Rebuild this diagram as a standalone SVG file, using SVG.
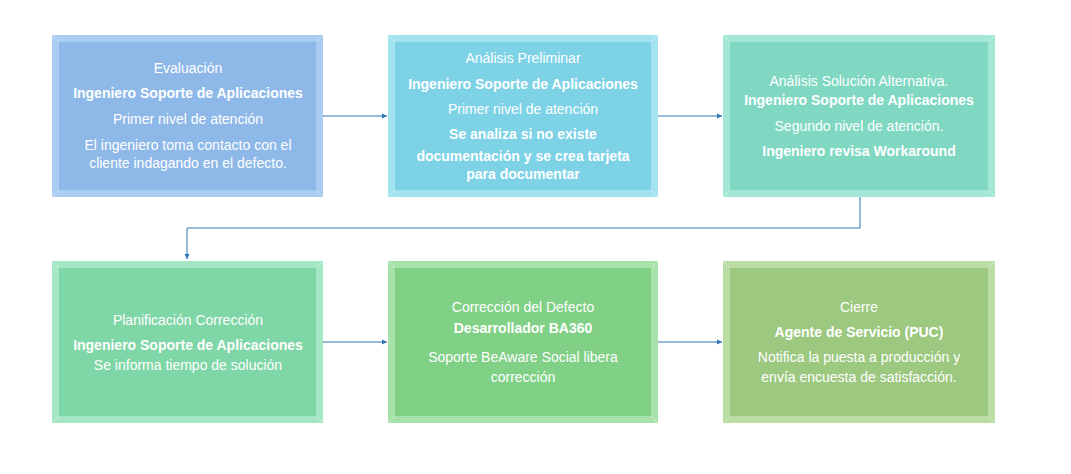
<svg xmlns="http://www.w3.org/2000/svg" width="1071" height="474" viewBox="0 0 1071 474">
<style>
text{font-family:"Liberation Sans",Arial,sans-serif;font-size:14px;fill:#fff;text-anchor:middle}
.b{font-weight:bold}
.edge{stroke:#fff;stroke-opacity:.35;stroke-width:1}
.c{fill:none;stroke:#2e75b6;stroke-width:1}
</style>
<defs>
<marker id="a" markerWidth="6" markerHeight="6" refX="5" refY="3" orient="auto" markerUnits="userSpaceOnUse"><path d="M0,0.5 L5,3 L0,5.5z" fill="#2e75b6"/></marker>
</defs>
<rect width="1071" height="474" fill="#fff"/>
<g id="n1"><rect x="52" y="35" width="271" height="162" fill="#a9cdf2"/><rect x="59" y="42" width="257" height="148" fill="#8db8e8"/><path class="edge" d="M52,35 59,42 M323,35 316,42 M52,197 59,190 M323,197 316,190"/>
<text x="188" y="73">Evaluación</text><text x="188" y="98" class="b">Ingeniero Soporte de Aplicaciones</text><text x="188" y="124">Primer nivel de atención</text><text x="188" y="150">El ingeniero toma contacto con el</text><text x="188" y="168">cliente indagando en el defecto.</text></g>
<g id="n2"><rect x="388" y="35" width="270" height="162" fill="#a3e3f0"/><rect x="395" y="42" width="256" height="148" fill="#7dd2e6"/><path class="edge" d="M388,35 395,42 M658,35 651,42 M388,197 395,190 M658,197 651,190"/>
<text x="523" y="63">Análisis Preliminar</text><text x="523" y="89" class="b">Ingeniero Soporte de Aplicaciones</text><text x="523" y="114">Primer nivel de atención</text><text x="523" y="139" class="b">Se analiza si no existe</text><text x="523" y="161" class="b">documentación y se crea tarjeta</text><text x="523" y="179" class="b">para documentar</text></g>
<g id="n3"><rect x="723" y="35" width="272" height="162" fill="#a5e6d6"/><rect x="730" y="42" width="258" height="148" fill="#80d8c2"/><path class="edge" d="M723,35 730,42 M995,35 988,42 M723,197 730,190 M995,197 988,190"/>
<text x="859" y="86">Análisis Solución Alternativa.</text><text x="859" y="105" class="b">Ingeniero Soporte de Aplicaciones</text><text x="859" y="131">Segundo nivel de atención.</text><text x="859" y="156" class="b">Ingeniero revisa Workaround</text></g>
<g id="n4"><rect x="52" y="261" width="271" height="162" fill="#a5e6c4"/><rect x="59" y="268" width="257" height="148" fill="#7fd6a6"/><path class="edge" d="M52,261 59,268 M323,261 316,268 M52,423 59,416 M323,423 316,416"/>
<text x="188" y="325">Planificación Corrección</text><text x="188" y="350" class="b">Ingeniero Soporte de Aplicaciones</text><text x="188" y="370">Se informa tiempo de solución</text></g>
<g id="n5"><rect x="388" y="261" width="270" height="162" fill="#a6e2aa"/><rect x="395" y="268" width="256" height="148" fill="#80d086"/><path class="edge" d="M388,261 395,268 M658,261 651,268 M388,423 395,416 M658,423 651,416"/>
<text x="523" y="312">Corrección del Defecto</text><text x="523" y="333" class="b">Desarrollador BA360</text><text x="523" y="362">Soporte BeAware Social libera</text><text x="523" y="382">corrección</text></g>
<g id="n6"><rect x="723" y="261" width="272" height="162" fill="#bcdca5"/><rect x="730" y="268" width="258" height="148" fill="#9cc87f"/><path class="edge" d="M723,261 730,268 M995,261 988,268 M723,423 730,416 M995,423 988,416"/>
<text x="859" y="312">Cierre</text><text x="859" y="337" class="b">Agente de Servicio (PUC)</text><text x="859" y="362">Notifica la puesta a producción y</text><text x="859" y="382">envía encuesta de satisfacción.</text></g>
<g id="connectors">
<path class="c" d="M323,116 H387" marker-end="url(#a)"/>
<path class="c" d="M658,116 H722" marker-end="url(#a)"/>
<path class="c" d="M860,197 V228 H187 V259" marker-end="url(#a)"/>
<path class="c" d="M323,342 H387" marker-end="url(#a)"/>
<path class="c" d="M658,342 H722" marker-end="url(#a)"/>
</g>
</svg>
